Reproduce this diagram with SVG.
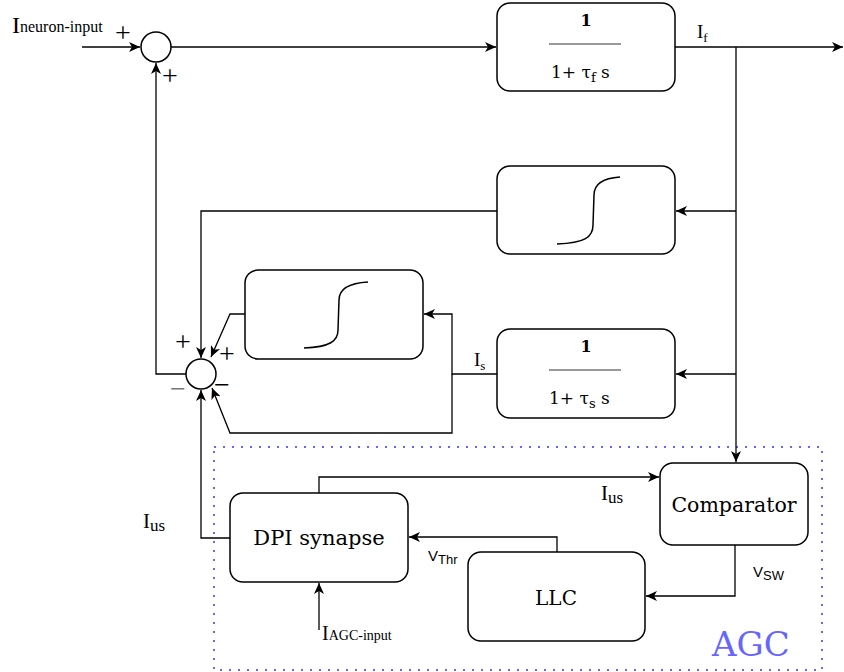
<svg xmlns="http://www.w3.org/2000/svg" width="844" height="672" viewBox="0 0 844 672">
<style>
.box{fill:#fff;stroke:#000;stroke-width:1.5}
.ln{fill:none;stroke:#000;stroke-width:1.3}
.ar{marker-end:url(#ah)}
.t{font-family:"DejaVu Serif","Liberation Serif",serif;fill:#000}
.r{font-family:"Liberation Serif",serif;fill:#000}
.s{font-family:"Liberation Sans",Arial,sans-serif;fill:#000}
.pm{font-family:"Liberation Serif",serif;fill:#000;font-size:28px}
.sig{fill:none;stroke:#000;stroke-width:1.5}
.frac{stroke:#999;stroke-width:2}
</style>
<defs>
<marker id="ah" markerWidth="12" markerHeight="10" refX="11" refY="5" orient="auto" markerUnits="userSpaceOnUse">
<path d="M0,0 L11,5 L0,10 L3,5 Z" fill="#000"/>
</marker>
</defs>

<g id="agc">
<rect x="214" y="447" width="608" height="223" fill="none" stroke="#6666FF" stroke-width="2" stroke-dasharray="2 7"/>
<text x="712" y="656" class="t" font-size="34" style="fill:#6666FF">AGC</text>
</g>

<g id="connectors">
<path class="ln ar" d="M82,47 L140,47"/>
<path class="ln ar" d="M171,47 L496,47"/>
<path class="ln ar" d="M675,47 L843,47"/>
<path class="ln ar" d="M736,47 L736,462"/>
<path class="ln ar" d="M736,211 L676,211"/>
<path class="ln ar" d="M736,374 L676,374"/>
<path class="ln ar" d="M497,211 L201,211 L201,358"/>
<path class="ln ar" d="M186,374 L156,374 L156,63"/>
<path class="ln ar" d="M245,314 L230,314 L211,357"/>
<path class="ln ar" d="M497,374 L452,374 L452,314 L424,314"/>
<path class="ln ar" d="M452,374 L452,433 L230,433 L212,388"/>
<path class="ln ar" d="M230,538 L201,538 L201,390"/>
<path class="ln ar" d="M319,493 L319,477 L659,477"/>
<path class="ln ar" d="M735,545 L735,596 L646,596"/>
<path class="ln ar" d="M557,552 L557,537 L409,537"/>
<path class="ln ar" d="M319,630 L319,583"/>
</g>

<g id="sum1">
<circle cx="156" cy="47" r="15" fill="#fff" stroke="#000" stroke-width="1.5"/>
<text x="115" y="42" class="pm">+</text>
<text x="162" y="85" class="pm">+</text>
</g>

<g id="sum2">
<circle cx="201" cy="374" r="15" fill="#fff" stroke="#000" stroke-width="1.5"/>
<text x="175" y="351" class="pm">+</text>
<text x="219" y="363" class="pm">+</text>
<text x="170" y="398" class="pm" style="fill:#777">−</text>
<text x="214" y="394" class="pm">−</text>
</g>

<g id="label-input">
<text x="12" y="33" class="r"><tspan font-size="24">I</tspan><tspan font-size="16" dy="-1">neuron-input</tspan></text>
</g>

<g id="lpf-fast">
<rect class="box" x="497" y="3" width="178" height="88" rx="13"/>
<text x="586" y="26" class="t" font-size="16" text-anchor="middle" font-weight="bold">1</text>
<line class="frac" x1="549" y1="44" x2="621" y2="44"/>
<text x="551" y="78" class="t" font-size="17">1+ τ<tspan font-size="13" dy="4">f</tspan><tspan dy="-4"> s</tspan></text>
</g>
<text x="697" y="38" class="r" font-size="19">I<tspan font-size="13" dy="4">f</tspan></text>

<g id="sigmoid-fast">
<rect class="box" x="497" y="166" width="178" height="88" rx="13"/>
<path class="sig" d="M557,244 C585,243 593,237 593,225 L594,195 C594,183 605,178 620,177"/>
</g>

<g id="sigmoid-slow">
<rect class="box" x="245" y="270" width="178" height="89" rx="13"/>
<path class="sig" d="M304,348 C330,347 338,341 338,330 L339,300 C339,288 350,283 368,282"/>
</g>

<g id="lpf-slow">
<rect class="box" x="497" y="329" width="178" height="89" rx="13"/>
<text x="586" y="352" class="t" font-size="16" text-anchor="middle" font-weight="bold">1</text>
<line class="frac" x1="549" y1="370" x2="621" y2="370"/>
<text x="549" y="404" class="t" font-size="17">1+ τ<tspan font-size="13" dy="4">s</tspan><tspan dy="-4"> s</tspan></text>
</g>
<text x="474" y="366" class="r" font-size="19">I<tspan font-size="13" dy="4">s</tspan></text>

<g id="dpi">
<rect class="box" x="230" y="493" width="178" height="89" rx="13"/>
<text x="319" y="545" class="t" font-size="21" text-anchor="middle">DPI synapse</text>
</g>
<text x="143" y="528" class="r" font-size="21">I<tspan font-size="17" dy="3">us</tspan></text>
<text x="601" y="500" class="r" font-size="21">I<tspan font-size="17" dy="3">us</tspan></text>
<text x="322" y="640" class="r" font-size="20">I<tspan font-size="14">AGC-input</tspan></text>

<g id="comparator">
<rect class="box" x="660" y="463" width="148" height="82" rx="13"/>
<text x="734" y="512" class="t" font-size="20.5" text-anchor="middle">Comparator</text>
</g>
<text x="753" y="577" class="s" font-size="15">V<tspan font-size="13" dy="3">SW</tspan></text>

<g id="llc">
<rect class="box" x="468" y="552" width="177" height="89" rx="13"/>
<text x="556" y="605" class="t" font-size="20" text-anchor="middle">LLC</text>
</g>
<text x="428" y="561" class="s" font-size="15">V<tspan font-size="13" dy="3">Thr</tspan></text>
</svg>
